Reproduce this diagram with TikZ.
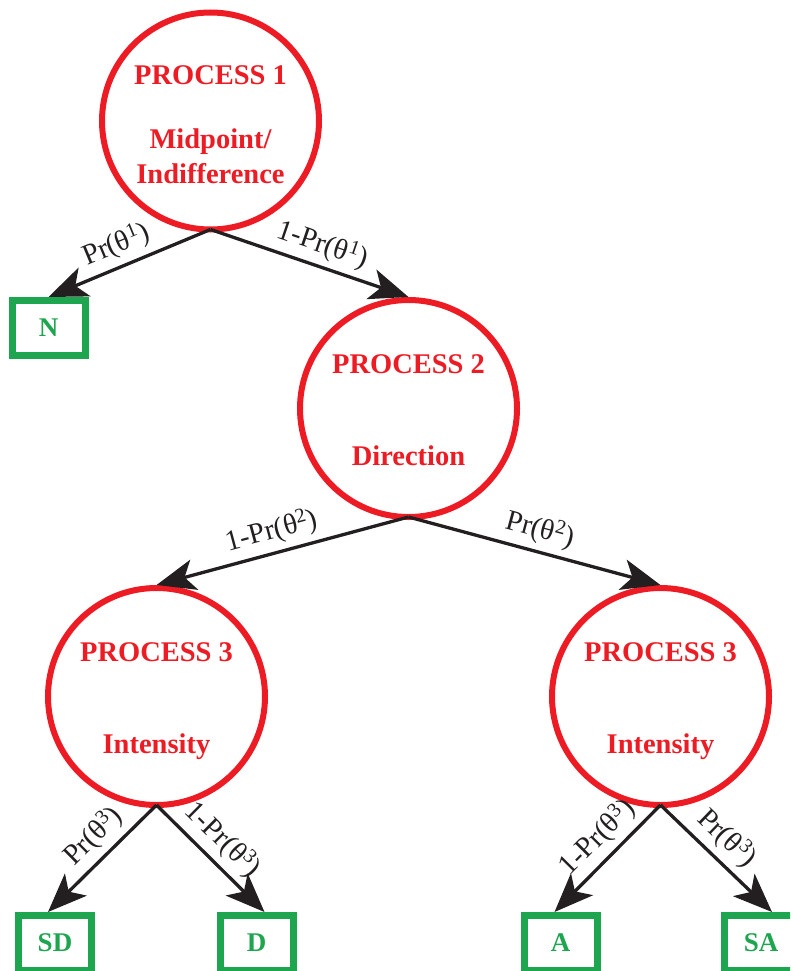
\documentclass[tikz,border=0pt]{standalone}
\usepackage{fontspec}
\setmainfont{Liberation Serif}
\usetikzlibrary{arrows.meta}
\definecolor{pred}{RGB}{237,28,36}
\definecolor{pgreen}{RGB}{30,165,80}
\definecolor{pblack}{RGB}{35,31,32}
\begin{document}
\begin{tikzpicture}[x=1pt,y=-1pt,
  proc/.style={circle, draw=pred, line width=6pt, minimum size=217pt, inner sep=0pt},
  outc/.style={rectangle, draw=pgreen, line width=7pt, minimum width=73pt, minimum height=55pt, inner sep=0pt,
    text=pgreen, font=\bfseries\fontsize{27}{32}\selectfont},
  ptext/.style={text=pred, anchor=base, inner sep=0pt, font=\bfseries\fontsize{28.5}{34}\selectfont},
  lab/.style={text=pblack, inner sep=0pt, sloped, above=6pt, font=\fontsize{29}{33}\selectfont},
  arr/.style={draw=pblack, line width=3.3pt, -{Stealth[length=39pt, width=31pt, inset=10pt]}}
]
\clip (0,0) rectangle (790,971);
\useasboundingbox (0,0) rectangle (790,971);

% process circles
\node[proc] (P1) at (210.5,121) {};
\node[proc] (P2) at (408.5,408.5) {};
\node[proc] (P3L) at (156.5,696.5) {};
\node[proc] (P3R) at (660.5,696.5) {};

% texts in circles
\node[ptext] (t1a) at (210.5,85) {PROCESS 1};
\node[ptext] (t1b) at (210.5,148) {Midpoint/};
\node[ptext] (t1c) at (210.5,183) {Indifference};
\node[ptext] (t2a) at (408.5,373) {PROCESS 2};
\node[ptext] (t2b) at (408.5,465) {Direction};
\node[ptext] (t3a) at (156.5,661) {PROCESS 3};
\node[ptext] (t3b) at (156.5,753) {Intensity};
\node[ptext] (t4a) at (660.5,661) {PROCESS 3};
\node[ptext] (t4b) at (660.5,753) {Intensity};

% outcome boxes
\node[outc] (N) at (48.5,328) {N};
\node[outc] (SD) at (55,943) {SD};
\node[outc] (D) at (256.5,943) {D};
\node[outc] (A) at (560.5,943) {A};
\node[outc] (SA) at (761,943) {SA};

% connectors
\draw[arr] ([yshift=3pt]P1.south) -- (N.north)
  node[lab, pos=.53] {Pr(θ\textsuperscript{1})};
\draw[arr] ([yshift=3pt]P1.south) -- (P2.north)
  node[lab, pos=.53] {1-Pr(θ\textsuperscript{1})};
\draw[arr] ([yshift=3pt]P2.south) -- (P3L.north)
  node[lab, pos=.52] {1-Pr(θ\textsuperscript{2})};
\draw[arr] ([yshift=3pt]P2.south) -- (P3R.north)
  node[lab, pos=.50] {Pr(θ\textsuperscript{2})};
\draw[arr] ([yshift=3pt]P3L.south) -- ([xshift=-7pt]SD.north)
  node[lab, pos=.44] {Pr(θ\textsuperscript{3})};
\draw[arr] ([yshift=3pt]P3L.south) -- ([xshift=8pt]D.north)
  node[lab, pos=.47] {1-Pr(θ\textsuperscript{3})};
\draw[arr] ([yshift=3pt]P3R.south) -- ([xshift=-6pt]A.north)
  node[lab, pos=.45] {1-Pr(θ\textsuperscript{3})};
\draw[arr] ([yshift=3pt]P3R.south) -- ([xshift=11pt]SA.north)
  node[lab, pos=.46] {Pr(θ\textsuperscript{3})};
\end{tikzpicture}
\end{document}
